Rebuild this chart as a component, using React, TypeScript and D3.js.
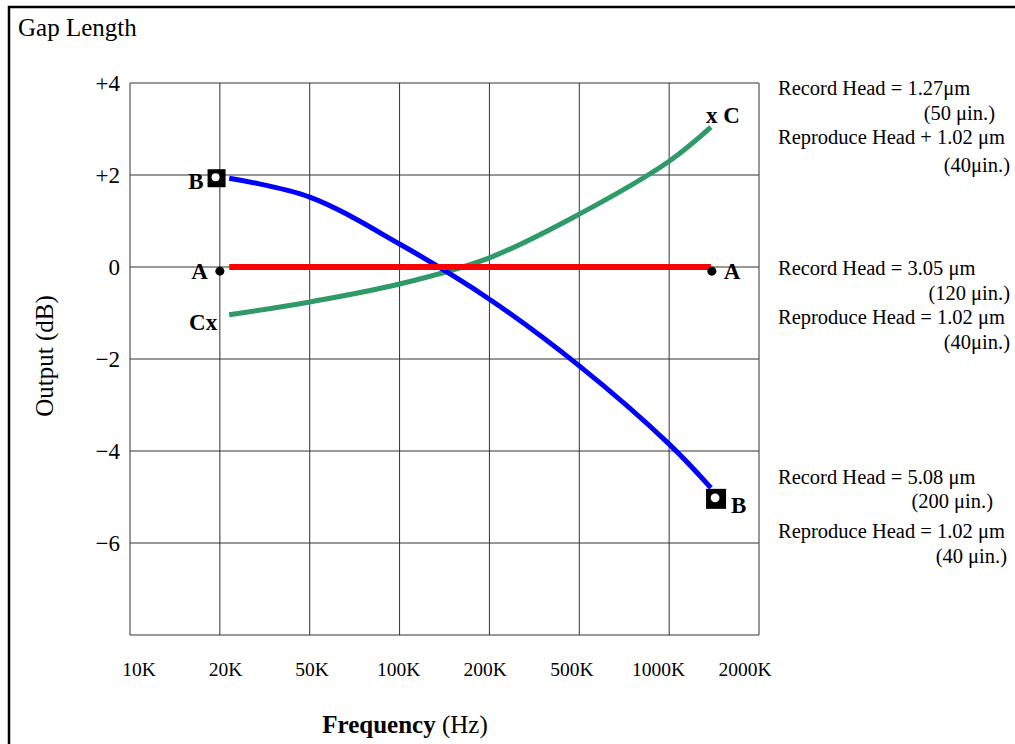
import React from "react";
import * as d3 from "d3";

const freqTicks = [10, 20, 50, 100, 200, 500, 1000, 2000];
const freqLabels = ["10K", "20K", "50K", "100K", "200K", "500K", "1000K", "2000K"];
const dbTicks = [-8, -6, -4, -2, 0, 2, 4];
const dbLabels = [
  { v: 4, t: "+4" },
  { v: 2, t: "+2" },
  { v: 0, t: "0" },
  { v: -2, t: "\u22122" },
  { v: -4, t: "\u22124" },
  { v: -6, t: "\u22126" },
];

// curve A (red), B (blue), C (green): frequency in kHz, output in dB
const aFreq = [22, 1380];
const aDb = [0, 0];
const bFreq = [22, 50, 100, 200, 500, 1000, 1380];
const bDb = [1.93, 1.52, 0.5, -0.7, -2.15, -3.85, -4.8];
const cFreq = [22, 50, 100, 200, 500, 1000, 1380];
const cDb = [-1.04, -0.76, -0.37, 0.2, 1.15, 2.3, 3.04];

const notes = [
  { lines: ["Record Head = 1.27\u03bcm", "(50 \u03bcin.)", "Reproduce Head + 1.02 \u03bcm", "(40\u03bcin.)"], ys: [95, 120, 144, 172], right: [0, 995, 0, 1010] },
  { lines: ["Record Head = 3.05 \u03bcm", "(120 \u03bcin.)", "Reproduce Head = 1.02 \u03bcm", "(40\u03bcin.)"], ys: [275, 300, 324, 349], right: [0, 1010, 0, 1010] },
  { lines: ["Record Head = 5.08 \u03bcm", "(200 \u03bcin.)", "Reproduce Head = 1.02 \u03bcm", "(40 \u03bcin.)"], ys: [484, 508, 538, 563], right: [0, 993, 0, 1007] },
];

const W = 1015;
const H = 744;
const left = 130, right = 759, top = 83, bottom = 635;
const font = "'Liberation Serif', 'Times New Roman', serif";

const App = () => {
  const x = d3
    .scaleLog()
    .domain(freqTicks)
    .range(freqTicks.map((_, i) => left + (i * (right - left)) / (freqTicks.length - 1)));
  const y = d3.scaleLinear([-8, 4], [bottom, top]);
  const xl = d3.scalePoint(freqLabels, [139, 745]);

  const line = d3
    .line<[number, number]>()
    .x((d) => x(d[0]))
    .y((d) => y(d[1]))
    .curve(d3.curveCatmullRom.alpha(0.5));
  const zip = (f: number[], v: number[]) => f.map((d, i) => [d, v[i]] as [number, number]);

  const sq = (cx: number, cy: number, s: number) => (
    <g>
      <rect x={cx - s / 2} y={cy - s / 2} width={s} height={s} fill="#000" />
      <circle cx={cx - 1} cy={cy - 1} r={s * 0.22} fill="#fff" />
    </g>
  );

  return (
    <svg width={W} height={H} style={{ position: "absolute", left: 0, top: 0 }} fontFamily={font}>
      <rect width={W} height={H} fill="#fff" />
      <path d={`M9,${H} V7 H${W}`} fill="none" stroke="#000" strokeWidth={2.5} />
      <text x={18} y={36} fontSize={25}>Gap Length</text>

      <g stroke="#333" strokeWidth={1}>
        {freqTicks.map((f) => (
          <line key={f} x1={x(f)} x2={x(f)} y1={top} y2={bottom} />
        ))}
        {dbTicks.map((v) => (
          <line key={v} x1={left} x2={right} y1={y(v)} y2={y(v)} />
        ))}
      </g>

      <g fontSize={23} textAnchor="end">
        {dbLabels.map((d) => (
          <text key={d.v} x={120} y={y(d.v) + 8}>{d.t}</text>
        ))}
      </g>
      <text transform={`translate(53,${356}) rotate(-90)`} textAnchor="middle" fontSize={25}>
        Output (dB)
      </text>

      <g fontSize={19.5} textAnchor="middle">
        {freqLabels.map((l) => (
          <text key={l} x={xl(l)} y={676}>{l}</text>
        ))}
      </g>
      <text x={405} y={733} textAnchor="middle" fontSize={25}>
        <tspan fontWeight="bold">Frequency</tspan> (Hz)
      </text>

      <path d={line(zip(cFreq, cDb)) ?? ""} fill="none" stroke="#2e9a68" strokeWidth={5} />
      <path d={line(zip(bFreq, bDb)) ?? ""} fill="none" stroke="#0000ff" strokeWidth={5} />
      <path d={line(zip(aFreq, aDb)) ?? ""} fill="none" stroke="#ff0000" strokeWidth={6} />

      <g fontWeight="bold" fontSize={23}>
        <circle cx={x(20)} cy={y(-0.09)} r={4.5} fill="#000" />
        <text x={x(20) - 12} y={y(0) + 12} textAnchor="end">A</text>
        <circle cx={x(1390)} cy={y(-0.09)} r={4.5} fill="#000" />
        <text x={x(1390) + 12} y={y(0) + 12}>A</text>
        {sq(x(19.5), y(1.93), 18)}
        <text x={x(19.5) - 13} y={y(1.93) + 11} textAnchor="end">B</text>
        {sq(x(1436), y(-5.04), 20)}
        <text x={x(1436) + 15} y={y(-5.04) + 14}>B</text>
        <text x={x(22) - 12} y={y(-1.04) + 15} textAnchor="end">Cx</text>
        <text x={x(1380) - 5} y={y(3.04) - 4}>x C</text>
      </g>

      <g fontSize={20.5}>
        {notes.map((n, i) =>
          n.lines.map((t, j) => (
            <text
              key={`${i}-${j}`}
              x={n.right[j] ? n.right[j] : 778}
              y={n.ys[j]}
              textAnchor={n.right[j] ? "end" : "start"}
            >
              {t}
            </text>
          ))
        )}
      </g>
    </svg>
  );
};

export default App;
